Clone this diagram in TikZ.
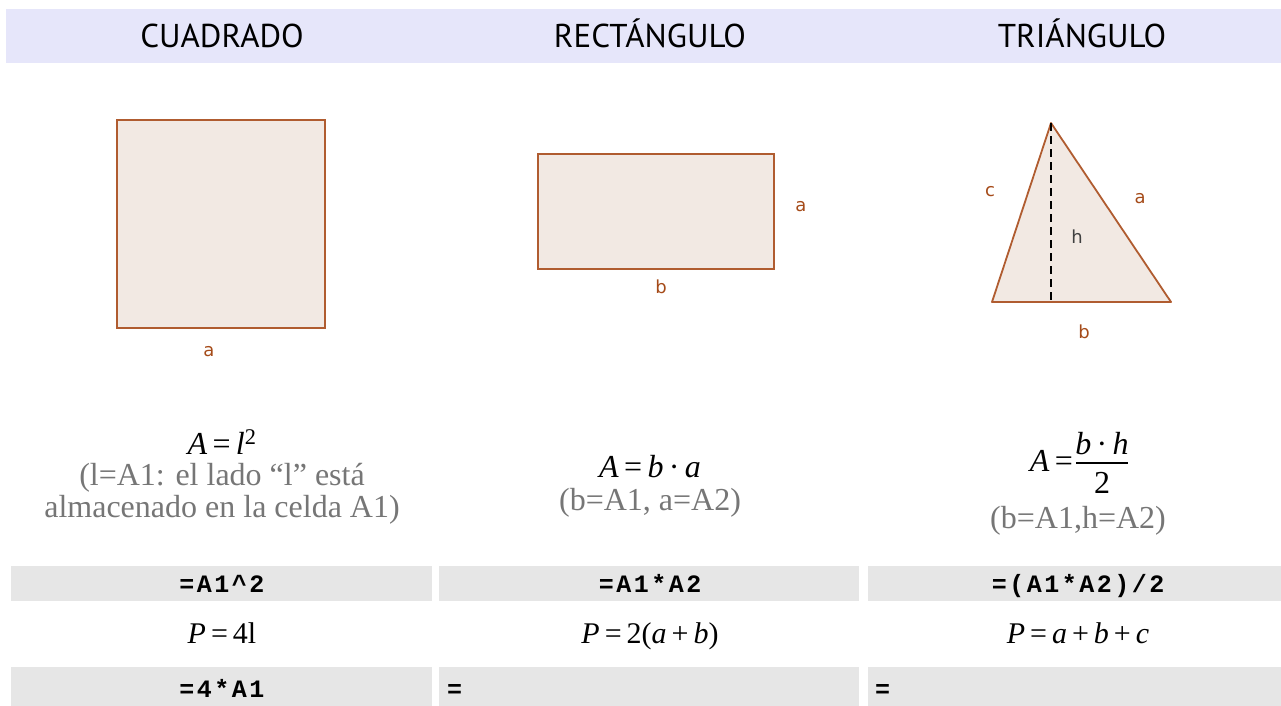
\documentclass[tikz,border=0pt]{standalone}
\usepackage{fontspec}
\setmainfont{Liberation Serif}
\newfontfamily\headfont{PT Sans}
\newfontfamily\lblfont{DejaVu Sans}
\newfontfamily\codefont[LetterSpace=10]{Liberation Mono}
\definecolor{headbg}{RGB}{230,230,250}
\definecolor{cellgray}{RGB}{230,230,230}
\definecolor{edgebrown}{RGB}{176,92,48}
\definecolor{fillrose}{RGB}{242,233,227}
\definecolor{lblbrown}{RGB}{165,75,25}
\definecolor{notegray}{RGB}{118,118,118}
\tikzset{
  band/.style = {fill=headbg},
  cell/.style = {fill=cellgray},
  fig/.style  = {draw=edgebrown, fill=fillrose, line width=1.8pt},
  lbl/.style  = {font=\lblfont\fontsize{18}{18}\selectfont, text=lblbrown, inner sep=0pt},
  head/.style = {font=\headfont\fontsize{33}{33}\selectfont, anchor=base, inner sep=0pt},
  form/.style = {font=\fontsize{32}{32}\selectfont, anchor=base, inner sep=0pt},
  note/.style = {form, text=notegray},
  perim/.style = {font=\fontsize{30}{30}\selectfont, anchor=base, inner sep=0pt},
  code/.style = {font=\codefont\bfseries\fontsize{25}{25}\selectfont, anchor=base, inner sep=0pt}
}
\newcommand{\vi}[1]{\textit{#1}}

\begin{document}
\begin{tikzpicture}[x=1pt,y=-1pt]
\useasboundingbox (0,0) rectangle (1281,706);
% header band
\fill[band] (6,9) rectangle (1281,63);
\node[head] (hsq)  at (222,48)  {CUADRADO};
\node[head] (hrect) at (650,48) {RECTÁNGULO};
\node[head] (htri) at (1082,48) {TRIÁNGULO};
% square
\draw[fig] (117,120) rectangle (325,328);
\node[lbl] (sqa) at (209,352) {a};
% rectangle
\draw[fig] (538,154) rectangle (774,269);
\node[lbl] (ra) at (801,207) {a};
\node[lbl] (rb) at (661,287) {b};
% triangle
\coordinate (T) at (1051,123);
\coordinate (L) at (992,302);
\coordinate (R) at (1171,302);
\coordinate (F) at (1051,302);
\draw[fig, line join=round] (L)--(T)--(R)--cycle;
\draw[line width=1.5pt, dash pattern=on 8pt off 5pt] (T)--(F); % height
\node[lbl] (tc) at (990,192) {c};
\node[lbl] (ta) at (1140,199) {a};
\node[lbl, text=black!75] (th) at (1077,237) {h};
\node[lbl] (tb) at (1084,332) {b};
% area formulas
\node[form] (asq) at (222,454) {\vi{A}\,=\,\vi{l}\textsuperscript{2}};
\node[note] (n1) at (222,485) {(l=A1: el lado “l” está};
\node[note] (n2) at (222,517) {almacenado en la celda A1)};
\node[form] (arect) at (650,477) {\vi{A}\,=\,\vi{b}\,·\,\vi{a}};
\node[note] (n3) at (650,510) {(b=A1, a=A2)};
\node[form, anchor=base east] (atri) at (1073,471) {\vi{A}\,=};
\node[form] (num) at (1102,454) {\vi{b}\,·\,\vi{h}};
\node[form] (den) at (1102,493) {2};
\draw[line width=1.4pt] (1076,463) -- (1128,463); % fraction bar
\node[note] (n4) at (1078,528) {(b=A1,h=A2)};
% spreadsheet rows
\fill[cell] (11,566) rectangle (432,601);
\fill[cell] (439,566) rectangle (859,601);
\fill[cell] (868,566) rectangle (1281,601);
\fill[cell] (11,667) rectangle (432,706);
\fill[cell] (439,667) rectangle (859,706);
\fill[cell] (868,667) rectangle (1281,706);
\node[code] (c1) at (222,592) {=A1\textasciicircum 2};
\node[code] (c2) at (650,592) {=A1*A2};
\node[code] (c3) at (1078,592) {=(A1*A2)/2};
\node[perim] (p1) at (222,643) {\vi{P}\,=\,4l};
\node[perim] (p2) at (650,643) {\vi{P}\,=\,2(\vi{a}\,+\,\vi{b})};
\node[perim] (p3) at (1078,643) {\vi{P}\,=\,\vi{a}\,+\,\vi{b}\,+\,\vi{c}};
\node[code] (c4) at (222,697) {=4*A1};
\node[code, anchor=base west] (c5) at (447,697) {=};
\node[code, anchor=base west] (c6) at (875,697) {=};
\end{tikzpicture}
\end{document}
